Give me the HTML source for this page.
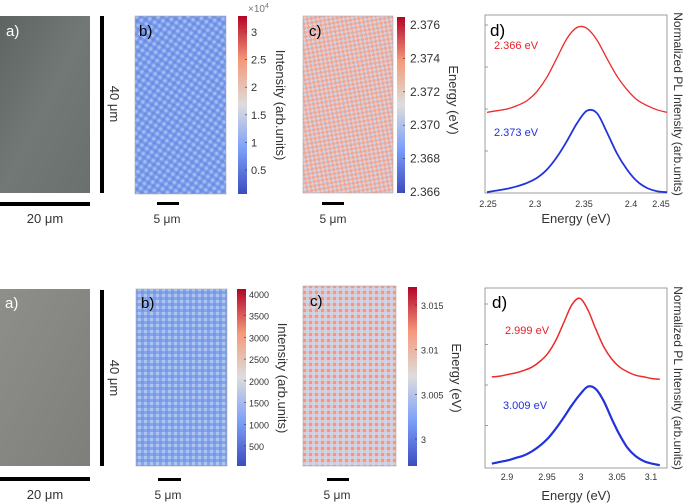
<!DOCTYPE html>
<html><head><meta charset="utf-8"><style>
body{margin:0;background:#fff;}
svg{display:block;font-family:"Liberation Sans",sans-serif;}
.tk{font-size:11px;fill:#333;}
.tks{font-size:9px;fill:#333;}
.lab{font-size:13px;fill:#333;}
</style></head><body>
<svg id="fig" width="685" height="503" viewBox="0 0 685 503">
<defs>
<linearGradient id="cw" x1="0" y1="1" x2="0" y2="0">
<stop offset="0" stop-color="#3b4cc0"/><stop offset="0.25" stop-color="#7b9ff9"/><stop offset="0.5" stop-color="#dddddd"/><stop offset="0.75" stop-color="#f49a7b"/><stop offset="1" stop-color="#b40426"/></linearGradient>
<pattern id="texB" width="6" height="6" patternUnits="userSpaceOnUse" patternTransform="rotate(35)"><rect width="6" height="6" fill="#7b9ceb"/><rect width="3" height="3" fill="#a3bdf0"/><rect x="3" y="3" width="3" height="3" fill="#6a8ee6"/></pattern>
<pattern id="texC" width="6" height="6" patternUnits="userSpaceOnUse" patternTransform="rotate(35)"><rect width="6" height="6" fill="#eaa898"/><rect width="3" height="3" fill="#f2c7bd"/><rect x="3" y="3" width="3" height="3" fill="#c9d3ee"/></pattern>
<pattern id="texB2" width="6" height="6" patternUnits="userSpaceOnUse"><rect width="6" height="6" fill="#86a6ec"/><rect width="3" height="3" fill="#aec4f2"/><rect x="3" y="3" width="3" height="3" fill="#7698e8"/></pattern>
<pattern id="texC2" width="6" height="6" patternUnits="userSpaceOnUse"><rect width="6" height="6" fill="#e8c4c0"/><rect width="3" height="3" fill="#c8d6ef"/><rect x="3" y="3" width="3" height="3" fill="#ea9a8a"/></pattern>
<linearGradient id="ph1" x1="0" y1="0" x2="1" y2="1"><stop offset="0" stop-color="#5e6462"/><stop offset="0.5" stop-color="#727876"/><stop offset="1" stop-color="#6a706e"/></linearGradient>
<linearGradient id="ph2" x1="0" y1="0" x2="1" y2="1"><stop offset="0" stop-color="#8e8e8a"/><stop offset="1" stop-color="#7e7f7b"/></linearGradient>
</defs>

<g>
<rect x="0" y="16" width="90" height="177" fill="url(#ph1)"/>
<text x="6" y="36" font-size="15" fill="#fff">a)</text>
<rect x="0" y="202" width="90" height="4" fill="#000"/>
<text x="45" y="223" text-anchor="middle" class="lab">20 μm</text>
<rect x="100" y="16" width="4" height="177" fill="#000"/>
<text transform="translate(110,104) rotate(90)" text-anchor="middle" class="lab">40 μm</text>

<rect x="135" y="16" width="91" height="178" fill="url(#texB)" stroke="#aaa" stroke-width="0.6"/>
<text x="139" y="36" font-size="15" fill="#000">b)</text>
<rect x="157" y="202" width="22" height="3" fill="#000"/>
<text x="167" y="223" text-anchor="middle" font-size="12" fill="#333">5 μm</text>
<rect x="238" y="16" width="9" height="178" fill="url(#cw)"/>
<text x="248" y="12" font-size="10" fill="#777">×10<tspan font-size="7" dy="-4">4</tspan></text>
<g id="cbTop1"></g>
<text transform="translate(276,105) rotate(90)" text-anchor="middle" class="lab">Intensity (arb.units)</text>

<rect x="303" y="16" width="90" height="177" fill="url(#texC)" stroke="#aaa" stroke-width="0.6"/>
<text x="309" y="36" font-size="15" fill="#000">c)</text>
<rect x="322" y="202" width="22" height="3" fill="#000"/>
<text x="333" y="223" text-anchor="middle" font-size="12" fill="#333">5 μm</text>
<rect x="397" y="17" width="8" height="176" fill="url(#cw)"/>
<g id="cbTop2"></g>
<text transform="translate(449,100) rotate(90)" text-anchor="middle" class="lab">Energy (eV)</text>

<rect x="485" y="15" width="182" height="178" fill="none" stroke="#888" stroke-width="0.8"/>
<g id="specTop"></g>
<text x="490" y="36" font-size="17" fill="#000">d)</text>
<text x="494" y="49" font-size="11" fill="#e8202a">2.366 eV</text>
<text x="494" y="136" font-size="11" fill="#2030d8">2.373 eV</text>
<g class="tks">
<text x="488" y="207" text-anchor="middle">2.25</text><text x="535" y="207" text-anchor="middle">2.3</text><text x="584" y="207" text-anchor="middle">2.35</text><text x="631" y="207" text-anchor="middle">2.4</text><text x="661" y="207" text-anchor="middle">2.45</text>
</g>
<text x="576" y="223" text-anchor="middle" class="lab">Energy (eV)</text>
<text transform="translate(674,104) rotate(90)" text-anchor="middle" font-size="12" fill="#333">Normalized PL Intensity (arb.units)</text>
</g>

<g>
<rect x="0" y="289" width="90" height="177" fill="url(#ph2)"/>
<text x="5" y="308" font-size="15" fill="#fff">a)</text>
<rect x="0" y="477" width="90" height="4" fill="#000"/>
<text x="45" y="499" text-anchor="middle" class="lab">20 μm</text>
<rect x="100" y="290" width="4" height="176" fill="#000"/>
<text transform="translate(110,378) rotate(90)" text-anchor="middle" class="lab">40 μm</text>

<rect x="136" y="289" width="91" height="177" fill="url(#texB2)" stroke="#aaa" stroke-width="0.6"/>
<text x="141" y="308" font-size="15" fill="#000">b)</text>
<rect x="158" y="478" width="23" height="3" fill="#000"/>
<text x="168" y="499" text-anchor="middle" font-size="12" fill="#333">5 μm</text>
<rect x="237" y="289" width="9" height="177" fill="url(#cw)"/>
<g id="cbBot1"></g>
<text transform="translate(278,378) rotate(90)" text-anchor="middle" class="lab">Intensity (arb.units)</text>

<rect x="303" y="286" width="93" height="180" fill="url(#texC2)" stroke="#aaa" stroke-width="0.6"/>
<text x="310" y="306" font-size="15" fill="#000">c)</text>
<rect x="327" y="478" width="22" height="3" fill="#000"/>
<text x="337" y="499" text-anchor="middle" font-size="12" fill="#333">5 μm</text>
<rect x="408" y="287" width="9" height="179" fill="url(#cw)"/>
<g id="cbBot2"></g>
<text transform="translate(452,378) rotate(90)" text-anchor="middle" class="lab">Energy (eV)</text>

<rect x="485" y="288" width="182" height="180" fill="none" stroke="#888" stroke-width="0.8"/>
<g id="specBot"></g>
<text x="492" y="308" font-size="17" fill="#000">d)</text>
<text x="505" y="334" font-size="11" fill="#e8202a">2.999 eV</text>
<text x="503" y="409" font-size="11" fill="#2030d8">3.009 eV</text>
<g class="tks">
<text x="507" y="480" text-anchor="middle">2.9</text><text x="547" y="480" text-anchor="middle">2.95</text><text x="581" y="480" text-anchor="middle">3</text><text x="617" y="480" text-anchor="middle">3.05</text><text x="651" y="480" text-anchor="middle">3.1</text>
</g>
<text x="576" y="500" text-anchor="middle" class="lab">Energy (eV)</text>
<text transform="translate(674,378) rotate(90)" text-anchor="middle" font-size="12" fill="#333">Normalized PL Intensity (arb.units)</text>
</g>
</svg>
<script>
const cbTop1Ticks = [0.5, 1, 1.5, 2, 2.5, 3];
const cbTop2Ticks = ["2.366", "2.368", "2.370", "2.372", "2.374", "2.376"];
const cbBot1Ticks = [500, 1000, 1500, 2000, 2500, 3000, 3500, 4000];
const cbBot2Ticks = ["3", "3.005", "3.01", "3.015"];
const topEnergies = [2.27,2.28,2.29,2.30,2.31,2.32,2.33,2.34,2.35,2.36,2.37,2.38,2.39,2.40,2.41,2.42,2.43,2.44,2.45];
const topRed  = [0.00,0.02,0.04,0.08,0.14,0.25,0.42,0.65,0.88,1.01,1.00,0.86,0.64,0.43,0.27,0.15,0.08,0.03,0.00];
const topBlue = [0.01,0.03,0.05,0.08,0.12,0.18,0.28,0.43,0.62,0.83,0.98,0.95,0.72,0.47,0.28,0.14,0.06,0.02,0.01];
const botEnergies = [2.89,2.90,2.91,2.92,2.93,2.94,2.95,2.96,2.97,2.98,2.99,3.00,3.01,3.02,3.03,3.04,3.05,3.06,3.07,3.08,3.09,3.10];
const botRed  = [0.03,0.04,0.06,0.08,0.11,0.15,0.22,0.32,0.48,0.70,0.92,1.00,0.86,0.62,0.40,0.25,0.15,0.09,0.05,0.03,0.01,0.00];
const botBlue = [0.03,0.05,0.07,0.10,0.13,0.18,0.25,0.34,0.46,0.60,0.75,0.88,0.98,0.95,0.80,0.58,0.38,0.22,0.12,0.06,0.03,0.01];

const NS = "http://www.w3.org/2000/svg";
function mk(tag, attrs, parent){const e=document.createElementNS(NS,tag);for(const k in attrs)e.setAttribute(k,attrs[k]);parent.appendChild(e);return e;}

function colorbar(gid, ticks, vmin, vmax, y0, y1, xBar, xLab, fs){
  const g=document.getElementById(gid);
  const sc=v=>y0+(parseFloat(v)-vmin)/(vmax-vmin)*(y1-y0);
  ticks.forEach(t=>{
    const y=sc(t);
    const ln=mk("line",{x1:xBar-2,x2:xBar,y1:y,y2:y,stroke:"#333","stroke-width":0.6},g);
    
    
    const tx=mk("text",{x:xLab,y:y+4,"font-size":fs,fill:"#333"},g);
    tx.textContent=t;
    
    
  });
}
colorbar("cbTop1", cbTop1Ticks, 0.5, 3, 170, 32, 247, 251, 11);
colorbar("cbTop2", cbTop2Ticks, 2.366, 2.376, 192, 25, 405, 410, 12);
colorbar("cbBot1", cbBot1Ticks, 500, 4000, 446, 294, 246, 249, 9);
colorbar("cbBot2", cbBot2Ticks, 3, 3.015, 439, 305, 417, 421, 9);

function smoothPath(p){
  let d="M"+p[0][0].toFixed(1)+","+p[0][1].toFixed(1);
  for(let i=0;i<p.length-1;i++){
    const p0=p[i-1]||p[i],p1=p[i],p2=p[i+1],p3=p[i+2]||p2;
    const c1x=p1[0]+(p2[0]-p0[0])/6,c1y=p1[1]+(p2[1]-p0[1])/6;
    const c2x=p2[0]-(p3[0]-p1[0])/6,c2y=p2[1]-(p3[1]-p1[1])/6;
    d+=" C"+c1x.toFixed(1)+","+c1y.toFixed(1)+" "+c2x.toFixed(1)+","+c2y.toFixed(1)+" "+p2[0].toFixed(1)+","+p2[1].toFixed(1);
  }
  return d;
}
function spectrum(gid, xs, series, e0, e1, x0, x1, yBase, unit){
  const g=document.getElementById(gid);
  const sx=e=>x0+(e-e0)/(e1-e0)*(x1-x0);
  series.forEach(s=>{
    const pts=xs.map((e,i)=>[sx(e), yBase-(s.vals[i]+s.off)*unit]);
    const pl=mk("path",{d:smoothPath(pts),fill:"none",stroke:s.color,"stroke-width":s.w,"stroke-linejoin":"round"},g);
    
    
  });
  [0.5,1,1.5,2].forEach(v=>{
    const y=yBase-v*unit;
    const t=mk("line",{x1:x0,x2:x0+3,y1:y,y2:y,stroke:"#666","stroke-width":0.6},g);
    
    
  });
}
spectrum("specTop", topEnergies, [
  {vals:topRed, off:0.96, color:"#ee2a2a", w:1.3, name:"spectrum-red-top"},
  {vals:topBlue, off:0, color:"#2233dd", w:1.8, name:"spectrum-blue-top"}
], 2.268, 2.450, 485, 667, 193, 84);
spectrum("specBot", botEnergies, [
  {vals:botRed, off:1.07, color:"#ee2a2a", w:1.5, name:"spectrum-red-bottom"},
  {vals:botBlue, off:0, color:"#2233dd", w:2.2, name:"spectrum-blue-bottom"}
], 2.8815, 3.109, 485, 667, 466, 81);
</script>
</body></html>
